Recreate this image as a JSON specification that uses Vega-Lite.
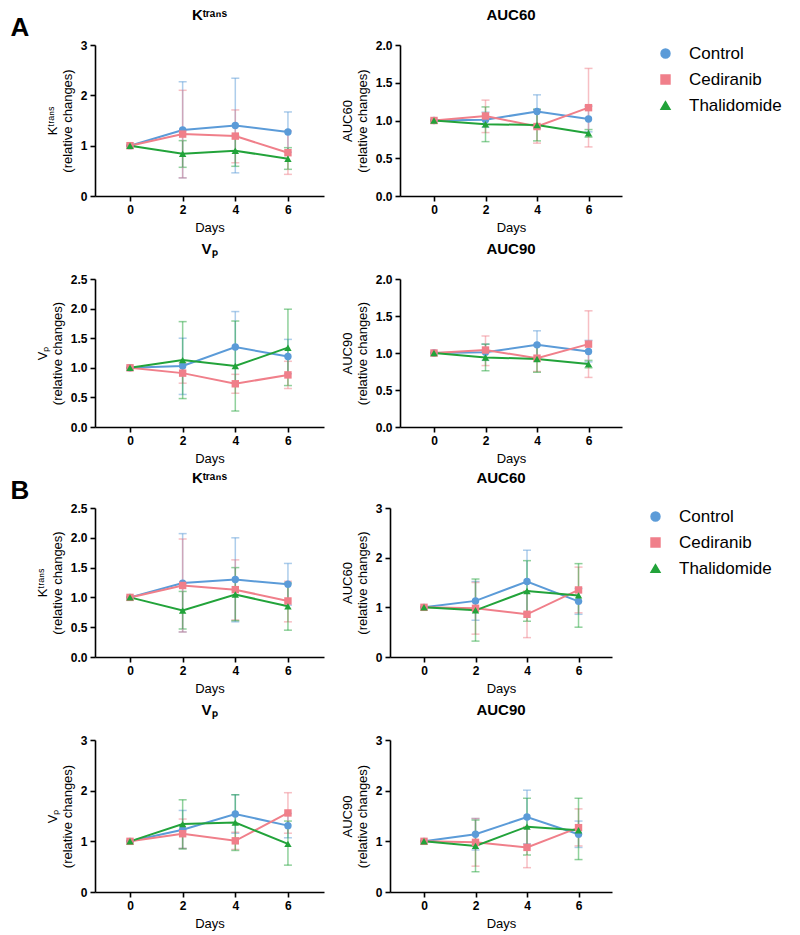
{
  "$schema": "https://vega.github.io/schema/vega-lite/v6.json",
  "background": "white",
  "padding": {"left": 10, "top": 8, "right": 5, "bottom": 5},
  "data": {"values": [
    {"p":"A","m":"Ktrans","g":"Control","d":0,"mean":1,"lo":1,"hi":1},
    {"p":"A","m":"Ktrans","g":"Control","d":2,"mean":1.31,"lo":0.36,"hi":2.27},
    {"p":"A","m":"Ktrans","g":"Control","d":4,"mean":1.40,"lo":0.46,"hi":2.34},
    {"p":"A","m":"Ktrans","g":"Control","d":6,"mean":1.27,"lo":0.87,"hi":1.67},
    {"p":"A","m":"Ktrans","g":"Cediranib","d":0,"mean":1,"lo":1,"hi":1},
    {"p":"A","m":"Ktrans","g":"Cediranib","d":2,"mean":1.23,"lo":0.36,"hi":2.10},
    {"p":"A","m":"Ktrans","g":"Cediranib","d":4,"mean":1.19,"lo":0.66,"hi":1.71},
    {"p":"A","m":"Ktrans","g":"Cediranib","d":6,"mean":0.86,"lo":0.43,"hi":1.29},
    {"p":"A","m":"Ktrans","g":"Thalidomide","d":0,"mean":1,"lo":1,"hi":1},
    {"p":"A","m":"Ktrans","g":"Thalidomide","d":2,"mean":0.84,"lo":0.57,"hi":1.10},
    {"p":"A","m":"Ktrans","g":"Thalidomide","d":4,"mean":0.90,"lo":0.59,"hi":1.20},
    {"p":"A","m":"Ktrans","g":"Thalidomide","d":6,"mean":0.74,"lo":0.53,"hi":0.96},

    {"p":"A","m":"AUC60","g":"Control","d":0,"mean":1,"lo":1,"hi":1},
    {"p":"A","m":"AUC60","g":"Control","d":2,"mean":1.01,"lo":0.91,"hi":1.11},
    {"p":"A","m":"AUC60","g":"Control","d":4,"mean":1.12,"lo":0.90,"hi":1.34},
    {"p":"A","m":"AUC60","g":"Control","d":6,"mean":1.02,"lo":0.85,"hi":1.19},
    {"p":"A","m":"AUC60","g":"Cediranib","d":0,"mean":1,"lo":1,"hi":1},
    {"p":"A","m":"AUC60","g":"Cediranib","d":2,"mean":1.06,"lo":0.84,"hi":1.27},
    {"p":"A","m":"AUC60","g":"Cediranib","d":4,"mean":0.92,"lo":0.70,"hi":1.14},
    {"p":"A","m":"AUC60","g":"Cediranib","d":6,"mean":1.17,"lo":0.65,"hi":1.69},
    {"p":"A","m":"AUC60","g":"Thalidomide","d":0,"mean":1,"lo":1,"hi":1},
    {"p":"A","m":"AUC60","g":"Thalidomide","d":2,"mean":0.95,"lo":0.72,"hi":1.18},
    {"p":"A","m":"AUC60","g":"Thalidomide","d":4,"mean":0.94,"lo":0.73,"hi":1.15},
    {"p":"A","m":"AUC60","g":"Thalidomide","d":6,"mean":0.83,"lo":0.78,"hi":0.88},

    {"p":"A","m":"Vp","g":"Control","d":0,"mean":1,"lo":1,"hi":1},
    {"p":"A","m":"Vp","g":"Control","d":2,"mean":1.03,"lo":0.55,"hi":1.50},
    {"p":"A","m":"Vp","g":"Control","d":4,"mean":1.35,"lo":0.75,"hi":1.95},
    {"p":"A","m":"Vp","g":"Control","d":6,"mean":1.19,"lo":0.90,"hi":1.48},
    {"p":"A","m":"Vp","g":"Cediranib","d":0,"mean":1,"lo":1,"hi":1},
    {"p":"A","m":"Vp","g":"Cediranib","d":2,"mean":0.91,"lo":0.74,"hi":1.08},
    {"p":"A","m":"Vp","g":"Cediranib","d":4,"mean":0.73,"lo":0.57,"hi":0.89},
    {"p":"A","m":"Vp","g":"Cediranib","d":6,"mean":0.88,"lo":0.65,"hi":1.11},
    {"p":"A","m":"Vp","g":"Thalidomide","d":0,"mean":1,"lo":1,"hi":1},
    {"p":"A","m":"Vp","g":"Thalidomide","d":2,"mean":1.13,"lo":0.48,"hi":1.78},
    {"p":"A","m":"Vp","g":"Thalidomide","d":4,"mean":1.03,"lo":0.27,"hi":1.79},
    {"p":"A","m":"Vp","g":"Thalidomide","d":6,"mean":1.34,"lo":0.70,"hi":1.99},

    {"p":"A","m":"AUC90","g":"Control","d":0,"mean":1,"lo":1,"hi":1},
    {"p":"A","m":"AUC90","g":"Control","d":2,"mean":1.01,"lo":0.90,"hi":1.12},
    {"p":"A","m":"AUC90","g":"Control","d":4,"mean":1.11,"lo":0.92,"hi":1.30},
    {"p":"A","m":"AUC90","g":"Control","d":6,"mean":1.02,"lo":0.88,"hi":1.17},
    {"p":"A","m":"AUC90","g":"Cediranib","d":0,"mean":1,"lo":1,"hi":1},
    {"p":"A","m":"AUC90","g":"Cediranib","d":2,"mean":1.04,"lo":0.83,"hi":1.23},
    {"p":"A","m":"AUC90","g":"Cediranib","d":4,"mean":0.93,"lo":0.75,"hi":1.11},
    {"p":"A","m":"AUC90","g":"Cediranib","d":6,"mean":1.12,"lo":0.67,"hi":1.57},
    {"p":"A","m":"AUC90","g":"Thalidomide","d":0,"mean":1,"lo":1,"hi":1},
    {"p":"A","m":"AUC90","g":"Thalidomide","d":2,"mean":0.94,"lo":0.76,"hi":1.12},
    {"p":"A","m":"AUC90","g":"Thalidomide","d":4,"mean":0.92,"lo":0.74,"hi":1.10},
    {"p":"A","m":"AUC90","g":"Thalidomide","d":6,"mean":0.85,"lo":0.80,"hi":0.90},

    {"p":"B","m":"Ktrans","g":"Control","d":0,"mean":1,"lo":1,"hi":1},
    {"p":"B","m":"Ktrans","g":"Control","d":2,"mean":1.24,"lo":0.42,"hi":2.07},
    {"p":"B","m":"Ktrans","g":"Control","d":4,"mean":1.30,"lo":0.59,"hi":2.00},
    {"p":"B","m":"Ktrans","g":"Control","d":6,"mean":1.22,"lo":0.87,"hi":1.57},
    {"p":"B","m":"Ktrans","g":"Cediranib","d":0,"mean":1,"lo":1,"hi":1},
    {"p":"B","m":"Ktrans","g":"Cediranib","d":2,"mean":1.20,"lo":0.42,"hi":1.98},
    {"p":"B","m":"Ktrans","g":"Cediranib","d":4,"mean":1.13,"lo":0.62,"hi":1.63},
    {"p":"B","m":"Ktrans","g":"Cediranib","d":6,"mean":0.94,"lo":0.59,"hi":1.27},
    {"p":"B","m":"Ktrans","g":"Thalidomide","d":0,"mean":1,"lo":1,"hi":1},
    {"p":"B","m":"Ktrans","g":"Thalidomide","d":2,"mean":0.78,"lo":0.47,"hi":1.10},
    {"p":"B","m":"Ktrans","g":"Thalidomide","d":4,"mean":1.05,"lo":0.61,"hi":1.50},
    {"p":"B","m":"Ktrans","g":"Thalidomide","d":6,"mean":0.85,"lo":0.45,"hi":1.24},

    {"p":"B","m":"AUC60","g":"Control","d":0,"mean":1,"lo":1,"hi":1},
    {"p":"B","m":"AUC60","g":"Control","d":2,"mean":1.13,"lo":0.74,"hi":1.52},
    {"p":"B","m":"AUC60","g":"Control","d":4,"mean":1.52,"lo":0.89,"hi":2.15},
    {"p":"B","m":"AUC60","g":"Control","d":6,"mean":1.12,"lo":0.86,"hi":1.38},
    {"p":"B","m":"AUC60","g":"Cediranib","d":0,"mean":1,"lo":1,"hi":1},
    {"p":"B","m":"AUC60","g":"Cediranib","d":2,"mean":0.98,"lo":0.46,"hi":1.50},
    {"p":"B","m":"AUC60","g":"Cediranib","d":4,"mean":0.86,"lo":0.39,"hi":1.33},
    {"p":"B","m":"AUC60","g":"Cediranib","d":6,"mean":1.35,"lo":0.89,"hi":1.81},
    {"p":"B","m":"AUC60","g":"Thalidomide","d":0,"mean":1,"lo":1,"hi":1},
    {"p":"B","m":"AUC60","g":"Thalidomide","d":2,"mean":0.94,"lo":0.32,"hi":1.57},
    {"p":"B","m":"AUC60","g":"Thalidomide","d":4,"mean":1.33,"lo":0.72,"hi":1.94},
    {"p":"B","m":"AUC60","g":"Thalidomide","d":6,"mean":1.24,"lo":0.60,"hi":1.88},

    {"p":"B","m":"Vp","g":"Control","d":0,"mean":1,"lo":1,"hi":1},
    {"p":"B","m":"Vp","g":"Control","d":2,"mean":1.23,"lo":0.86,"hi":1.61},
    {"p":"B","m":"Vp","g":"Control","d":4,"mean":1.54,"lo":1.16,"hi":1.92},
    {"p":"B","m":"Vp","g":"Control","d":6,"mean":1.31,"lo":1.07,"hi":1.55},
    {"p":"B","m":"Vp","g":"Cediranib","d":0,"mean":1,"lo":1,"hi":1},
    {"p":"B","m":"Vp","g":"Cediranib","d":2,"mean":1.15,"lo":0.86,"hi":1.44},
    {"p":"B","m":"Vp","g":"Cediranib","d":4,"mean":1.01,"lo":0.84,"hi":1.18},
    {"p":"B","m":"Vp","g":"Cediranib","d":6,"mean":1.56,"lo":1.16,"hi":1.96},
    {"p":"B","m":"Vp","g":"Thalidomide","d":0,"mean":1,"lo":1,"hi":1},
    {"p":"B","m":"Vp","g":"Thalidomide","d":2,"mean":1.34,"lo":0.85,"hi":1.82},
    {"p":"B","m":"Vp","g":"Thalidomide","d":4,"mean":1.37,"lo":0.82,"hi":1.92},
    {"p":"B","m":"Vp","g":"Thalidomide","d":6,"mean":0.95,"lo":0.53,"hi":1.40},

    {"p":"B","m":"AUC90","g":"Control","d":0,"mean":1,"lo":1,"hi":1},
    {"p":"B","m":"AUC90","g":"Control","d":2,"mean":1.14,"lo":0.83,"hi":1.45},
    {"p":"B","m":"AUC90","g":"Control","d":4,"mean":1.48,"lo":0.95,"hi":2.01},
    {"p":"B","m":"AUC90","g":"Control","d":6,"mean":1.14,"lo":0.88,"hi":1.40},
    {"p":"B","m":"AUC90","g":"Cediranib","d":0,"mean":1,"lo":1,"hi":1},
    {"p":"B","m":"AUC90","g":"Cediranib","d":2,"mean":0.98,"lo":0.51,"hi":1.45},
    {"p":"B","m":"AUC90","g":"Cediranib","d":4,"mean":0.88,"lo":0.48,"hi":1.29},
    {"p":"B","m":"AUC90","g":"Cediranib","d":6,"mean":1.27,"lo":0.91,"hi":1.64},
    {"p":"B","m":"AUC90","g":"Thalidomide","d":0,"mean":1,"lo":1,"hi":1},
    {"p":"B","m":"AUC90","g":"Thalidomide","d":2,"mean":0.91,"lo":0.40,"hi":1.42},
    {"p":"B","m":"AUC90","g":"Thalidomide","d":4,"mean":1.29,"lo":0.73,"hi":1.85},
    {"p":"B","m":"AUC90","g":"Thalidomide","d":6,"mean":1.22,"lo":0.64,"hi":1.85}
  ]},
  "resolve": {"scale": {"color": "independent", "shape": "independent"}},
  "spacing": 6,
  "vconcat": [
    {
      "title": {"text": "A", "orient": "left", "anchor": "end", "angle": 0, "fontSize": 26, "fontWeight": "bold", "font": "Liberation Sans", "baseline": "top", "align": "left", "offset": 7, "dy": 7},
      "columns": 2,
      "spacing": {"row": 8, "column": 17},
      "concat": [
        {
          "width": 229, "height": 151, "title": "Kᵗʳᵃⁿˢ",
          "transform": [{"filter": "datum.p==='A' && datum.m==='Ktrans'"}],
          "encoding": {
            "x": {"field": "d", "type": "quantitative", "scale": {"domain": [-1.33, 7.37], "nice": false, "zero": false}, "axis": {"values": [0, 2, 4, 6], "title": "Days"}},
            "color": {"field": "g", "type": "nominal", "scale": {"domain": ["Control", "Cediranib", "Thalidomide"], "range": ["#5B9BD8", "#F07F8A", "#22A33A"]}, "title": null},
            "y": {"field": "mean", "type": "quantitative", "scale": {"domain": [0, 3], "nice": false}, "axis": {"values": [0, 1, 2, 3], "format": "d"}, "title": ["Kᵗʳᵃⁿˢ", "(relative changes)"]}
          },
          "layer": [
            {"mark": {"type": "errorbar", "ticks": {"size": 8, "opacity": 0.5, "thickness": 1.5}, "rule": {"opacity": 0.5, "strokeWidth": 1.5}},
             "encoding": {"y": {"field": "lo", "type": "quantitative", "scale": {"domain": [0, 3], "nice": false}, "title": ["Kᵗʳᵃⁿˢ", "(relative changes)"]}, "y2": {"field": "hi"}}},
            {"mark": {"type": "line", "strokeWidth": 2}},
            {"mark": {"type": "point", "filled": true, "size": 55, "opacity": 1},
             "encoding": {"shape": {"field": "g", "type": "nominal", "scale": {"domain": ["Control", "Cediranib", "Thalidomide"], "range": ["circle", "square", "triangle-up"]}, "title": null}}}
          ]
        },
        {
          "width": 222, "height": 151, "title": "AUC60",
          "transform": [{"filter": "datum.p==='A' && datum.m==='AUC60'"}],
          "encoding": {
            "x": {"field": "d", "type": "quantitative", "scale": {"domain": [-1.32, 7.3], "nice": false, "zero": false}, "axis": {"values": [0, 2, 4, 6], "title": "Days"}},
            "color": {"field": "g", "type": "nominal", "scale": {"domain": ["Control", "Cediranib", "Thalidomide"], "range": ["#5B9BD8", "#F07F8A", "#22A33A"]}, "title": null},
            "y": {"field": "mean", "type": "quantitative", "scale": {"domain": [0, 2], "nice": false}, "axis": {"values": [0, 0.5, 1, 1.5, 2], "format": ".1f"}, "title": ["AUC60", "(relative changes)"]}
          },
          "layer": [
            {"mark": {"type": "errorbar", "ticks": {"size": 8, "opacity": 0.5, "thickness": 1.5}, "rule": {"opacity": 0.5, "strokeWidth": 1.5}},
             "encoding": {"y": {"field": "lo", "type": "quantitative", "scale": {"domain": [0, 2], "nice": false}, "title": ["AUC60", "(relative changes)"]}, "y2": {"field": "hi"}}},
            {"mark": {"type": "line", "strokeWidth": 2}},
            {"mark": {"type": "point", "filled": true, "size": 55, "opacity": 1},
             "encoding": {"shape": {"field": "g", "type": "nominal", "scale": {"domain": ["Control", "Cediranib", "Thalidomide"], "range": ["circle", "square", "triangle-up"]}, "title": null}}}
          ]
        },
        {
          "width": 229, "height": 148, "title": "Vₚ",
          "transform": [{"filter": "datum.p==='A' && datum.m==='Vp'"}],
          "encoding": {
            "x": {"field": "d", "type": "quantitative", "scale": {"domain": [-1.33, 7.37], "nice": false, "zero": false}, "axis": {"values": [0, 2, 4, 6], "title": "Days"}},
            "color": {"field": "g", "type": "nominal", "scale": {"domain": ["Control", "Cediranib", "Thalidomide"], "range": ["#5B9BD8", "#F07F8A", "#22A33A"]}, "title": null},
            "y": {"field": "mean", "type": "quantitative", "scale": {"domain": [0, 2.5], "nice": false}, "axis": {"values": [0, 0.5, 1, 1.5, 2, 2.5], "format": ".1f"}, "title": ["Vₚ", "(relative changes)"]}
          },
          "layer": [
            {"mark": {"type": "errorbar", "ticks": {"size": 8, "opacity": 0.5, "thickness": 1.5}, "rule": {"opacity": 0.5, "strokeWidth": 1.5}},
             "encoding": {"y": {"field": "lo", "type": "quantitative", "scale": {"domain": [0, 2.5], "nice": false}, "title": ["Vₚ", "(relative changes)"]}, "y2": {"field": "hi"}}},
            {"mark": {"type": "line", "strokeWidth": 2}},
            {"mark": {"type": "point", "filled": true, "size": 55, "opacity": 1},
             "encoding": {"shape": {"field": "g", "type": "nominal", "scale": {"domain": ["Control", "Cediranib", "Thalidomide"], "range": ["circle", "square", "triangle-up"]}, "title": null}}}
          ]
        },
        {
          "width": 222, "height": 148, "title": "AUC90",
          "transform": [{"filter": "datum.p==='A' && datum.m==='AUC90'"}],
          "encoding": {
            "x": {"field": "d", "type": "quantitative", "scale": {"domain": [-1.32, 7.3], "nice": false, "zero": false}, "axis": {"values": [0, 2, 4, 6], "title": "Days"}},
            "color": {"field": "g", "type": "nominal", "scale": {"domain": ["Control", "Cediranib", "Thalidomide"], "range": ["#5B9BD8", "#F07F8A", "#22A33A"]}, "title": null},
            "y": {"field": "mean", "type": "quantitative", "scale": {"domain": [0, 2], "nice": false}, "axis": {"values": [0, 0.5, 1, 1.5, 2], "format": ".1f"}, "title": ["AUC90", "(relative changes)"]}
          },
          "layer": [
            {"mark": {"type": "errorbar", "ticks": {"size": 8, "opacity": 0.5, "thickness": 1.5}, "rule": {"opacity": 0.5, "strokeWidth": 1.5}},
             "encoding": {"y": {"field": "lo", "type": "quantitative", "scale": {"domain": [0, 2], "nice": false}, "title": ["AUC90", "(relative changes)"]}, "y2": {"field": "hi"}}},
            {"mark": {"type": "line", "strokeWidth": 2}},
            {"mark": {"type": "point", "filled": true, "size": 55, "opacity": 1},
             "encoding": {"shape": {"field": "g", "type": "nominal", "scale": {"domain": ["Control", "Cediranib", "Thalidomide"], "range": ["circle", "square", "triangle-up"]}, "title": null}}}
          ]
        }
      ]
    },
    {
      "title": {"text": "B", "orient": "left", "anchor": "end", "angle": 0, "fontSize": 26, "fontWeight": "bold", "font": "Liberation Sans", "baseline": "top", "align": "left", "offset": 7, "dy": 7},
      "columns": 2,
      "spacing": {"row": 8, "column": 17},
      "concat": [
        {
          "width": 229, "height": 149, "title": "Kᵗʳᵃⁿˢ",
          "transform": [{"filter": "datum.p==='B' && datum.m==='Ktrans'"}],
          "encoding": {
            "x": {"field": "d", "type": "quantitative", "scale": {"domain": [-1.33, 7.37], "nice": false, "zero": false}, "axis": {"values": [0, 2, 4, 6], "title": "Days"}},
            "color": {"field": "g", "type": "nominal", "scale": {"domain": ["Control", "Cediranib", "Thalidomide"], "range": ["#5B9BD8", "#F07F8A", "#22A33A"]}, "title": null},
            "y": {"field": "mean", "type": "quantitative", "scale": {"domain": [0, 2.5], "nice": false}, "axis": {"values": [0, 0.5, 1, 1.5, 2, 2.5], "format": ".1f"}, "title": ["Kᵗʳᵃⁿˢ", "(relative changes)"]}
          },
          "layer": [
            {"mark": {"type": "errorbar", "ticks": {"size": 8, "opacity": 0.5, "thickness": 1.5}, "rule": {"opacity": 0.5, "strokeWidth": 1.5}},
             "encoding": {"y": {"field": "lo", "type": "quantitative", "scale": {"domain": [0, 2.5], "nice": false}, "title": ["Kᵗʳᵃⁿˢ", "(relative changes)"]}, "y2": {"field": "hi"}}},
            {"mark": {"type": "line", "strokeWidth": 2}},
            {"mark": {"type": "point", "filled": true, "size": 55, "opacity": 1},
             "encoding": {"shape": {"field": "g", "type": "nominal", "scale": {"domain": ["Control", "Cediranib", "Thalidomide"], "range": ["circle", "square", "triangle-up"]}, "title": null}}}
          ]
        },
        {
          "width": 222, "height": 149, "title": "AUC60",
          "transform": [{"filter": "datum.p==='B' && datum.m==='AUC60'"}],
          "encoding": {
            "x": {"field": "d", "type": "quantitative", "scale": {"domain": [-1.32, 7.3], "nice": false, "zero": false}, "axis": {"values": [0, 2, 4, 6], "title": "Days"}},
            "color": {"field": "g", "type": "nominal", "scale": {"domain": ["Control", "Cediranib", "Thalidomide"], "range": ["#5B9BD8", "#F07F8A", "#22A33A"]}, "title": null},
            "y": {"field": "mean", "type": "quantitative", "scale": {"domain": [0, 3], "nice": false}, "axis": {"values": [0, 1, 2, 3], "format": "d"}, "title": ["AUC60", "(relative changes)"]}
          },
          "layer": [
            {"mark": {"type": "errorbar", "ticks": {"size": 8, "opacity": 0.5, "thickness": 1.5}, "rule": {"opacity": 0.5, "strokeWidth": 1.5}},
             "encoding": {"y": {"field": "lo", "type": "quantitative", "scale": {"domain": [0, 3], "nice": false}, "title": ["AUC60", "(relative changes)"]}, "y2": {"field": "hi"}}},
            {"mark": {"type": "line", "strokeWidth": 2}},
            {"mark": {"type": "point", "filled": true, "size": 55, "opacity": 1},
             "encoding": {"shape": {"field": "g", "type": "nominal", "scale": {"domain": ["Control", "Cediranib", "Thalidomide"], "range": ["circle", "square", "triangle-up"]}, "title": null}}}
          ]
        },
        {
          "width": 229, "height": 152, "title": "Vₚ",
          "transform": [{"filter": "datum.p==='B' && datum.m==='Vp'"}],
          "encoding": {
            "x": {"field": "d", "type": "quantitative", "scale": {"domain": [-1.33, 7.37], "nice": false, "zero": false}, "axis": {"values": [0, 2, 4, 6], "title": "Days"}},
            "color": {"field": "g", "type": "nominal", "scale": {"domain": ["Control", "Cediranib", "Thalidomide"], "range": ["#5B9BD8", "#F07F8A", "#22A33A"]}, "title": null},
            "y": {"field": "mean", "type": "quantitative", "scale": {"domain": [0, 3], "nice": false}, "axis": {"values": [0, 1, 2, 3], "format": "d"}, "title": ["Vₚ", "(relative changes)"]}
          },
          "layer": [
            {"mark": {"type": "errorbar", "ticks": {"size": 8, "opacity": 0.5, "thickness": 1.5}, "rule": {"opacity": 0.5, "strokeWidth": 1.5}},
             "encoding": {"y": {"field": "lo", "type": "quantitative", "scale": {"domain": [0, 3], "nice": false}, "title": ["Vₚ", "(relative changes)"]}, "y2": {"field": "hi"}}},
            {"mark": {"type": "line", "strokeWidth": 2}},
            {"mark": {"type": "point", "filled": true, "size": 55, "opacity": 1},
             "encoding": {"shape": {"field": "g", "type": "nominal", "scale": {"domain": ["Control", "Cediranib", "Thalidomide"], "range": ["circle", "square", "triangle-up"]}, "title": null}}}
          ]
        },
        {
          "width": 222, "height": 152, "title": "AUC90",
          "transform": [{"filter": "datum.p==='B' && datum.m==='AUC90'"}],
          "encoding": {
            "x": {"field": "d", "type": "quantitative", "scale": {"domain": [-1.32, 7.3], "nice": false, "zero": false}, "axis": {"values": [0, 2, 4, 6], "title": "Days"}},
            "color": {"field": "g", "type": "nominal", "scale": {"domain": ["Control", "Cediranib", "Thalidomide"], "range": ["#5B9BD8", "#F07F8A", "#22A33A"]}, "title": null},
            "y": {"field": "mean", "type": "quantitative", "scale": {"domain": [0, 3], "nice": false}, "axis": {"values": [0, 1, 2, 3], "format": "d"}, "title": ["AUC90", "(relative changes)"]}
          },
          "layer": [
            {"mark": {"type": "errorbar", "ticks": {"size": 8, "opacity": 0.5, "thickness": 1.5}, "rule": {"opacity": 0.5, "strokeWidth": 1.5}},
             "encoding": {"y": {"field": "lo", "type": "quantitative", "scale": {"domain": [0, 3], "nice": false}, "title": ["AUC90", "(relative changes)"]}, "y2": {"field": "hi"}}},
            {"mark": {"type": "line", "strokeWidth": 2}},
            {"mark": {"type": "point", "filled": true, "size": 55, "opacity": 1},
             "encoding": {"shape": {"field": "g", "type": "nominal", "scale": {"domain": ["Control", "Cediranib", "Thalidomide"], "range": ["circle", "square", "triangle-up"]}, "title": null}}}
          ]
        }
      ]
    }
  ],
  "config": {
    "font": "Liberation Sans",
    "view": {"stroke": null},
    "title": {"font": "Liberation Sans", "fontSize": 15, "fontWeight": "bold", "color": "black", "offset": 16},
    "axis": {"grid": false, "domainColor": "black", "tickColor": "black", "domainWidth": 1.6, "tickWidth": 1.6, "tickSize": 5,
      "labelFont": "Liberation Sans", "labelFontWeight": "bold", "labelFontSize": 12, "labelColor": "black", "labelPadding": 3,
      "titleFont": "Liberation Sans", "titleFontWeight": "normal", "titleFontSize": 13, "titleColor": "black", "titlePadding": 6},
    "legend": {"orient": "right", "offset": 35, "labelFont": "Liberation Sans", "labelFontSize": 17, "labelColor": "black", "symbolSize": 80, "symbolOpacity": 1, "rowPadding": 8, "labelOffset": 15, "padding": 0}
  }
}
